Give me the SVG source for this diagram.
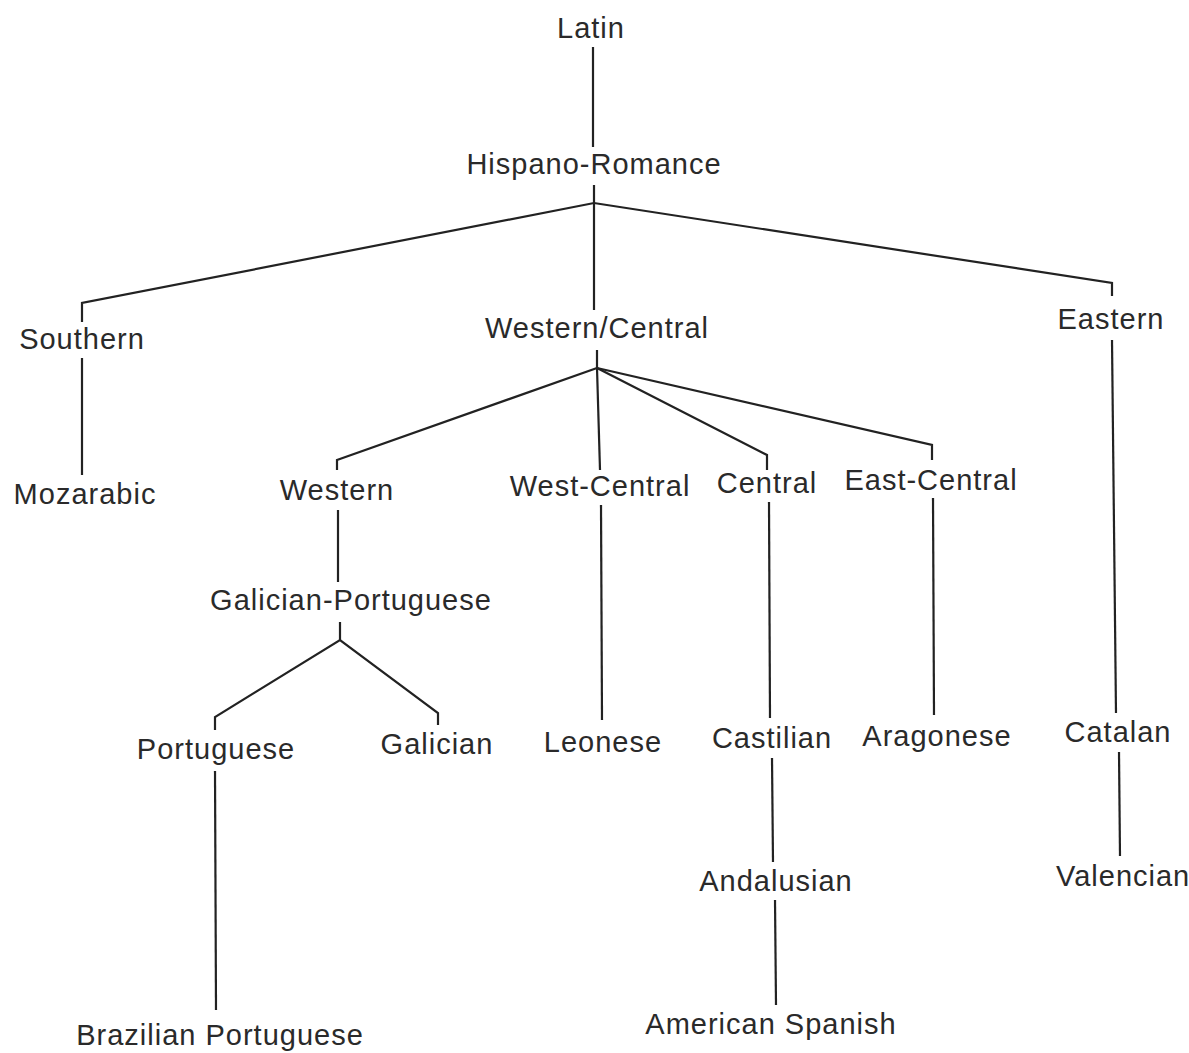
<svg xmlns="http://www.w3.org/2000/svg" width="1189" height="1053" viewBox="0 0 1189 1053">
<style>
text{font-family:"Liberation Sans",Arial,sans-serif;font-size:29px;letter-spacing:1px;fill:#2a2a2a;text-anchor:middle}
.c path,.c line{stroke:#222;stroke-width:2.2;fill:none;stroke-linejoin:miter}
</style>
<rect width="1189" height="1053" fill="#fff"/>
<g class="c" id="connectors">
<line x1="593" y1="47" x2="593" y2="147"/>
<line x1="594" y1="185" x2="594" y2="310"/>
<path d="M82 322V303L594 203L1112 283V296"/>
<line x1="82" y1="358" x2="82" y2="475"/>
<line x1="597" y1="350" x2="597" y2="368"/>
<path d="M337 470V460L597 368"/>
<line x1="597" y1="368" x2="600" y2="470"/>
<path d="M597 368L767 455V470"/>
<path d="M597 368L932 445V460"/>
<line x1="338" y1="510" x2="338" y2="582"/>
<path d="M340 622V640"/>
<path d="M215 730V717L340 640L438 713V725"/>
<line x1="215" y1="771" x2="216" y2="1010"/>
<line x1="601" y1="505" x2="602" y2="720"/>
<line x1="769" y1="502" x2="770" y2="718"/>
<line x1="772" y1="758" x2="773" y2="862"/>
<line x1="775" y1="900" x2="776" y2="1005"/>
<line x1="933" y1="498" x2="934" y2="715"/>
<line x1="1112" y1="340" x2="1116" y2="713"/>
<line x1="1119" y1="752" x2="1120" y2="856"/>
</g>
<g id="n-latin"><text x="591" y="38">Latin</text></g>
<g id="n-hispano"><text x="594" y="174">Hispano-Romance</text></g>
<g id="n-southern"><text x="82" y="349">Southern</text></g>
<g id="n-westcentralgroup"><text x="597" y="338">Western/Central</text></g>
<g id="n-eastern"><text x="1111" y="329">Eastern</text></g>
<g id="n-mozarabic"><text x="85" y="504">Mozarabic</text></g>
<g id="n-western"><text x="337" y="500">Western</text></g>
<g id="n-west-central"><text x="600" y="496">West-Central</text></g>
<g id="n-central"><text x="767" y="493">Central</text></g>
<g id="n-east-central"><text x="931" y="490">East-Central</text></g>
<g id="n-galport"><text x="351" y="610">Galician-Portuguese</text></g>
<g id="n-portuguese"><text x="216" y="759">Portuguese</text></g>
<g id="n-galician"><text x="437" y="754">Galician</text></g>
<g id="n-leonese"><text x="603" y="752">Leonese</text></g>
<g id="n-castilian"><text x="772" y="748">Castilian</text></g>
<g id="n-aragonese"><text x="937" y="746">Aragonese</text></g>
<g id="n-catalan"><text x="1118" y="742">Catalan</text></g>
<g id="n-andalusian"><text x="776" y="891">Andalusian</text></g>
<g id="n-valencian"><text x="1056" y="886" style="text-anchor:start">Valencian</text></g>
<g id="n-american"><text x="771" y="1034">American Spanish</text></g>
<g id="n-brazilian"><text x="220" y="1045">Brazilian Portuguese</text></g>
</svg>
